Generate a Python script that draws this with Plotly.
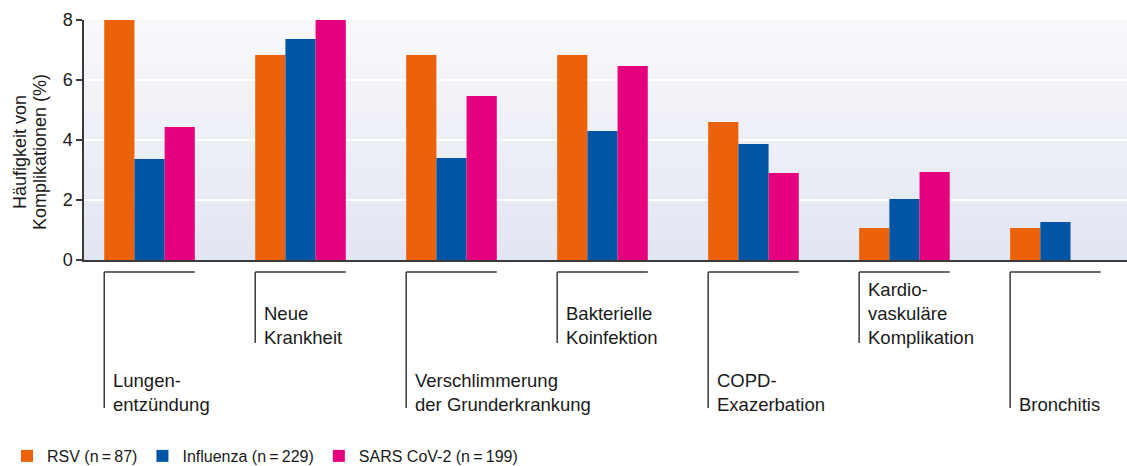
import plotly.graph_objects as go

categories = ["Lungen-<br>entzündung", "Neue<br>Krankheit", "Verschlimmerung<br>der Grunderkrankung",
              "Bakterielle<br>Koinfektion", "COPD-<br>Exazerbation",
              "Kardio-<br>vaskuläre<br>Komplikation", "Bronchitis"]
series_names = ["RSV (n\u2009=\u200987)", "Influenza (n\u2009=\u2009229)", "SARS CoV-2 (n\u2009=\u2009199)"]
rsv = [8.0, 6.83, 6.83, 6.83, 4.6, 1.07, 1.07]
influenza = [3.37, 7.37, 3.4, 4.3, 3.87, 2.03, 1.27]
sars = [4.43, 8.0, 5.47, 6.47, 2.9, 2.93, 0]
y_ticks = [0, 2, 4, 6, 8]
y_title_lines = ["Häufigkeit von", "Komplikationen (%)"]

colors = ["#EB620B", "#0056A4", "#E5007D"]
FONT = "Liberation Sans, Arial, Helvetica, sans-serif"
W, H = 1127, 466
ML, MR, MT = 84, 0, 20
plot_h = 240
MB = H - MT - plot_h
plot_w = W - ML - MR

def py(px):
    # window pixel row -> paper y
    return (MT + plot_h - px) / plot_h

def pxx(px):
    # window pixel column -> paper x
    return (px - ML) / plot_w

x_idx = list(range(len(categories)))
fig = go.Figure()
for name, vals, col in zip(series_names, [rsv, influenza, sars], colors):
    fig.add_trace(go.Bar(x=x_idx, y=vals, name=name, marker_color=col,
                         marker_line_width=0))

# gradient plot background in thin bands
n = 60
top_c = (249, 249, 252)
bot_c = (226, 230, 242)
ymax = y_ticks[-1]
for k in range(n):
    t = (k + 0.5) / n
    c = tuple(round(bot_c[j] + (top_c[j] - bot_c[j]) * t) for j in range(3))
    fig.add_shape(type="rect", xref="paper", yref="y", x0=0, x1=1,
                  y0=ymax * k / n, y1=ymax * (k + 1) / n + 0.01,
                  fillcolor="rgb(%d,%d,%d)" % c, line_width=0, layer="below")

# category brackets and labels
line_col = "#3a3a3a"
half = 0.3
for i, lab in enumerate(categories):
    low = (i % 2 == 0)
    y_top = py(272)
    y_end = py(408) if low else py(343)
    y_txt = py(417) if low else py(350)
    fig.add_shape(type="line", xref="x", yref="paper", x0=i - half, x1=i + half,
                  y0=y_top, y1=y_top, line=dict(color=line_col, width=1.5))
    fig.add_shape(type="line", xref="x", yref="paper", x0=i - half, x1=i - half,
                  y0=y_top, y1=y_end, line=dict(color=line_col, width=1.5))
    fig.add_annotation(x=i - half, xref="x", y=y_txt, yref="paper", text=lab,
                       showarrow=False, xanchor="left", yanchor="bottom", align="left",
                       xshift=7, font=dict(size=18.5, color="#1a1a1a", family=FONT))

for k, line in enumerate(y_title_lines):
    fig.add_annotation(xref="paper", x=0, xshift=-64 + 20 * k, yref="paper", y=py(152),
                       text=line, textangle=-90, showarrow=False,
                       xanchor="center", yanchor="middle",
                       font=dict(size=18, color="#1a1a1a", family=FONT))

fig.update_layout(
    width=W, height=H, margin=dict(l=ML, r=MR, t=MT, b=MB, autoexpand=False),
    paper_bgcolor="white", plot_bgcolor="rgba(0,0,0,0)",
    barmode="group", bargap=0.4, bargroupgap=0,
    font=dict(family=FONT, color="#1a1a1a"),
    legend=dict(orientation="h", x=pxx(7), xanchor="left",
                y=py(456), yanchor="middle", font=dict(size=16, family=FONT),
                bgcolor="rgba(0,0,0,0)", itemclick=False),
)
fig.update_xaxes(range=[-0.434, 6.474], showticklabels=False, ticks="",
                 showgrid=False, zeroline=False, showline=True,
                 linecolor="#3a3a3a", linewidth=1.5)
fig.update_yaxes(range=[0, 8], tickvals=y_ticks, ticks="outside", ticklen=6,
                 tickcolor="#3a3a3a", tickwidth=1.5,
                 showgrid=True, gridcolor="white", gridwidth=2, zeroline=False,
                 showline=True, linecolor="#3a3a3a", linewidth=1.5,
                 tickfont=dict(size=18, family=FONT, color="#1a1a1a"))

fig.write_html(
    "out.html",
    config={"displayModeBar": False},
    post_script="document.body.style.margin='0';"
                "document.body.style.overflow='hidden';"
                "document.documentElement.style.overflow='hidden';",
)
